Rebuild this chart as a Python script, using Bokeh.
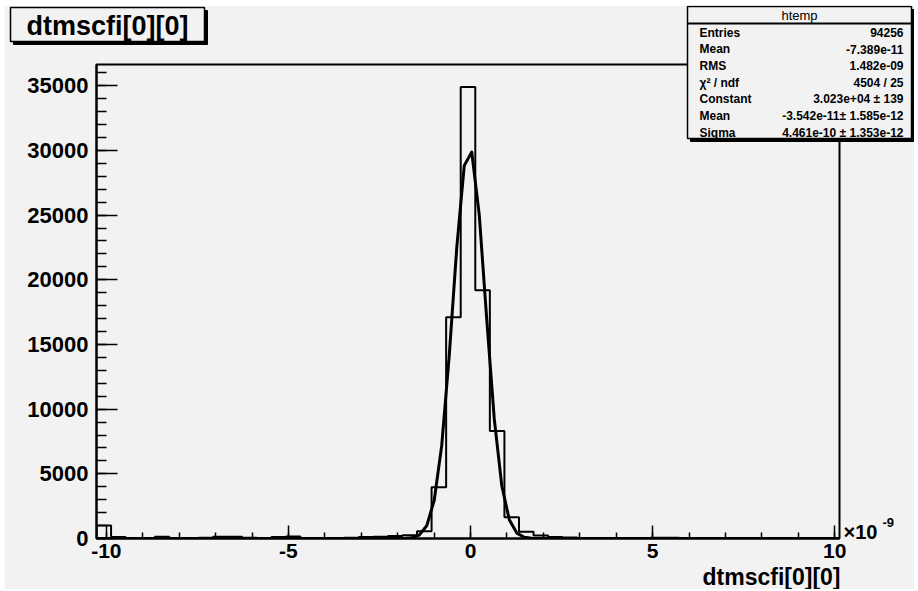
import numpy as np
from bokeh.plotting import figure
from bokeh.models import Range1d, FixedTicker, GridBox, CustomJSTickFormatter
from bokeh.core.properties import value
from bokeh.embed import file_html
from bokeh.resources import INLINE

# ---------------- data ----------------
bin_low = -10.27          # in units of 1e-9
bin_width = 0.4
bin_counts = [1000, 110, 40, 30, 140, 40, 30, 60, 130, 140,
              50, 40, 120, 150, 40, 30, 40, 50, 110, 140,
              190, 260, 560, 3960, 17100, 34900, 19200, 8310, 1650, 520,
              230, 120, 70, 40, 30, 20, 20, 40, 60, 50,
              20, 10, 10, 5, 5, 5, 0, 0, 0, 0, 0]
y_ticks = [0, 5000, 10000, 15000, 20000, 25000, 30000, 35000]
y_minor = list(range(0, 37000, 1000))
x_ticks = [-10, -5, 0, 5, 10]
x_minor = list(range(-10, 11))
fit_constant = 3.023e4
fit_mean = -3.542e-11 * 1e9
fit_sigma = 4.461e-10 * 1e9
fit_npx = 100
stats_title = "htemp"
stats_labels = ["Entries", "Mean", "RMS", "\u03c7\u00b2 / ndf", "Constant", "Mean", "Sigma"]
stats_values = ["94256", "-7.389e-11", "1.482e-09", "4504 / 25",
                "3.023e+04 \u00b1 139", "-3.542e-11\u00b1 1.585e-12", "4.461e-10 \u00b1 1.353e-12"]
hist_title = "dtmscfi[0][0]"
x_title = "dtmscfi[0][0]"

# ---------------- layout (page pixels) ----------------
OX, OY = 4, 5                 # white page strip left / top
W, H = 910, 584
FL, FR, FT, FB = 96, 839, 64, 538   # frame edges in page pixels
BG = "#f2f2f2"
FONT = "Liberation Sans"

n = len(bin_counts)
edges = bin_low + bin_width * np.arange(n + 1)
x_start, x_end = edges[0], edges[-1]
y_end = 1.05 * max(bin_counts)

p = figure(width=W, height=H, output_backend="svg", toolbar_location=None, title=None,
           x_range=Range1d(x_start, x_end), y_range=Range1d(0, y_end),
           min_border_left=FL - OX, min_border_right=OX + W - FR,
           min_border_top=FT - OY, min_border_bottom=OY + H - FB,
           background_fill_color=BG, border_fill_color=BG,
           outline_line_color="black", outline_line_width=2)
p.xgrid.visible = False
p.ygrid.visible = False

for ax in (p.xaxis[0], p.yaxis[0]):
    ax.axis_line_width = 2
    ax.axis_line_color = "black"
    ax.major_tick_out = 0
    ax.minor_tick_out = 0
    ax.major_tick_line_width = 1.5
    ax.minor_tick_line_width = 1.5
    ax.major_tick_line_color = "black"
    ax.minor_tick_line_color = "black"
    ax.major_label_text_font = FONT
    ax.major_label_text_font_style = "bold"
    ax.major_label_text_color = "black"
    ax.formatter = CustomJSTickFormatter(code="return String(tick)")

xa = p.xaxis[0]
xa.ticker = FixedTicker(ticks=x_ticks, minor_ticks=x_minor)
xa.major_tick_in = 13
xa.minor_tick_in = 6
xa.major_label_text_font_size = "21px"
xa.major_label_standoff = 5

ya = p.yaxis[0]
ya.ticker = FixedTicker(ticks=y_ticks, minor_ticks=y_minor)
ya.major_tick_in = 21
ya.minor_tick_in = 10
ya.major_label_text_font_size = "22px"
ya.major_label_standoff = 8

# histogram outline (step)
hx = [edges[0]]
hy = [0]
for i, c in enumerate(bin_counts):
    hx += [edges[i], edges[i + 1]]
    hy += [c, c]
hx.append(edges[-1])
hy.append(0)
p.line(hx, hy, line_color="black", line_width=2)

# gaussian fit curve from the fit parameters
gx = np.linspace(x_start, x_end, fit_npx)
gy = fit_constant * np.exp(-0.5 * ((gx - fit_mean) / fit_sigma) ** 2)
p.line(gx, gy, line_color="black", line_width=3, line_join="round")

# ---------------- overlay for boxes and texts outside the frame ----------------
q = figure(width=W, height=H, output_backend="svg", toolbar_location=None, title=None,
           x_range=Range1d(OX, OX + W), y_range=Range1d(OY + H, OY),
           x_axis_location=None, y_axis_location=None,
           min_border_left=0, min_border_right=0, min_border_top=0, min_border_bottom=0,
           background_fill_alpha=0, border_fill_alpha=0, outline_line_color=None)
q.xgrid.visible = False
q.ygrid.visible = False


def box(l, r, t, b, fill, line=None, lw=1):
    q.quad(left=[l], right=[r], top=[t], bottom=[b], fill_color=fill,
           line_color=line if line else fill, line_width=lw)


def text(x, y, s, size, align="left", bold=True):
    q.text(x=[x], y=[y], text=[s], text_font=value(FONT), text_font_size=value(size),
           text_font_style="bold" if bold else "normal", text_align=align,
           text_baseline="middle", text_color="black")


# title box
box(13, 207, 10, 44, "black")
box(10, 204, 7, 41, BG, "black", 1.5)
text(107, 25, hist_title, "27px", align="center")

# stats box
box(690, 914, 9, 141, "black")
box(687, 911, 6, 138, BG, "black", 1.5)
box(687, 911, 22.5, 23.5, "black")
text(799, 14.5, stats_title, "13px", align="center", bold=False)
for k, (lab, val) in enumerate(zip(stats_labels, stats_values)):
    yy = 32 + 16.7 * k
    text(699, yy, lab, "12px", align="left")
    text(903, yy, val, "12px", align="right")

# axis title and exponent
text(840, 576, x_title, "23px", align="right")
text(843, 531, "\u00d710", "20px", align="left")
text(882, 522, "-9", "13px", align="left")

# p sits in the middle cell, q spans the whole 3x3 grid: same place, no shared edges
layout = GridBox(children=[(p, 1, 1, 1, 1), (q, 0, 0, 3, 3)], margin=(OY, 0, 0, OX))

open("out.html", "w").write(file_html(layout, INLINE))
